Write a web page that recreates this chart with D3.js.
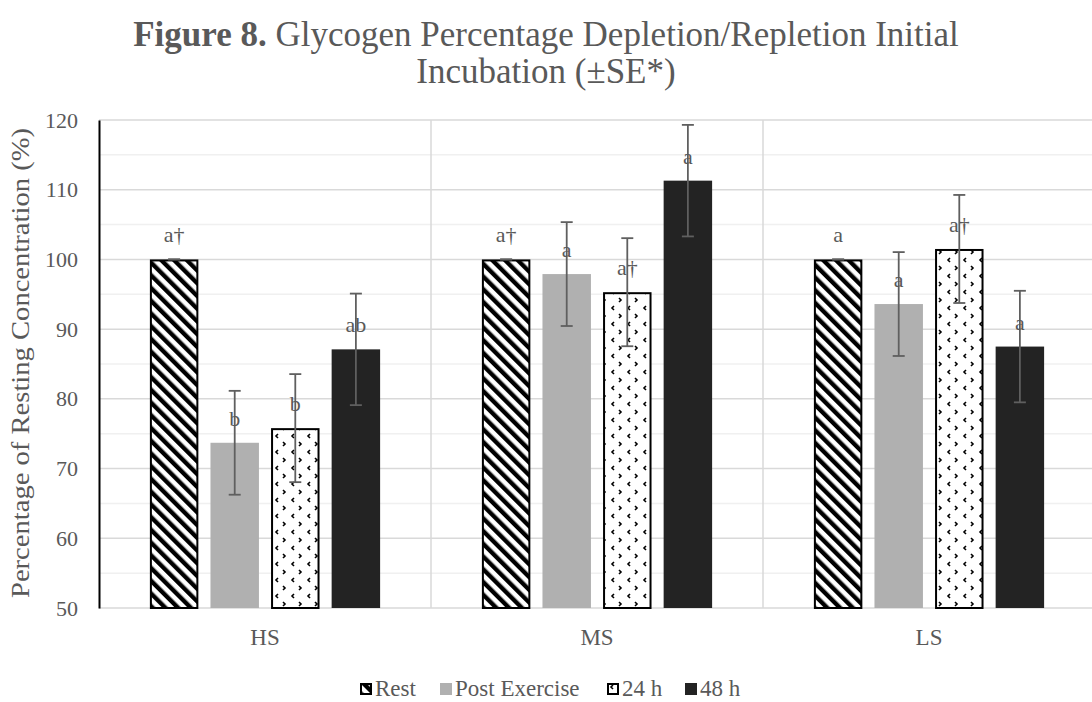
<!DOCTYPE html>
<html>
<head>
<meta charset="utf-8">
<script src="https://cdn.jsdelivr.net/npm/d3@7"></script>
<style>
  html, body { margin: 0; padding: 0; background: #fff; }
  svg { display: block; font-family: "Liberation Serif", "Times New Roman", serif; }
  svg text { font-family: "Liberation Serif", "Times New Roman", serif; }
</style>
</head>
<body>
<svg id="chart" width="1092" height="702"></svg>
<script>
// Sample groups and time points
const categories = ["HS", "MS", "LS"];
const seriesNames = ["Rest", "Post Exercise", "24 h", "48 h"];

// Glycogen as % of resting concentration, one array per time point (HS, MS, LS)
const restValues = [100, 100, 100];
const postExerciseValues = [73.7, 97.9, 93.6];
const h24Values = [75.8, 95.3, 101.5];
const h48Values = [87.1, 111.3, 87.5];

// Standard error for each time point (HS, MS, LS)
const restSE = [0, 0, 0];
const postExerciseSE = [7.45, 7.45, 7.45];
const h24SE = [7.75, 7.75, 7.75];
const h48SE = [8.0, 8.0, 8.0];

// Significance letters above each bar (HS, MS, LS)
const restLetters = ["a†", "a†", "a"];
const postExerciseLetters = ["b", "a", "a"];
const h24Letters = ["b", "a†", "a†"];
const h48Letters = ["ab", "a", "a"];

const yTicks = [50, 60, 70, 80, 90, 100, 110, 120];
const yMinorTicks = [55, 65, 75, 85, 95, 105, 115];

const seriesValues = [restValues, postExerciseValues, h24Values, h48Values];
const seriesSE = [restSE, postExerciseSE, h24SE, h48SE];
const seriesLetters = [restLetters, postExerciseLetters, h24Letters, h48Letters];

const rows = [];
seriesNames.forEach((s, si) => {
  categories.forEach((c, ci) => {
    rows.push({ series: s, si, cat: c, value: seriesValues[si][ci], se: seriesSE[si][ci], letter: seriesLetters[si][ci] });
  });
});

const svg = d3.select("#chart");
const textColor = "#595959";
const serif = "Liberation Serif, Times New Roman, serif";
const plot = { left: 99, right: 1095, top: 120, bottom: 608 };

// Fill patterns
const defs = svg.append("defs");
const stripes = defs.append("pattern")
  .attr("id", "stripes")
  .attr("patternUnits", "userSpaceOnUse")
  .attr("width", 9).attr("height", 9)
  .attr("patternTransform", "rotate(-45)");
stripes.append("rect").attr("width", 9).attr("height", 9).attr("fill", "#fff");
stripes.append("rect").attr("width", 4.4).attr("height", 9).attr("fill", "#000");

const dots = defs.append("pattern")
  .attr("id", "dots")
  .attr("patternUnits", "userSpaceOnUse")
  .attr("width", 16).attr("height", 16);
dots.append("rect").attr("width", 16).attr("height", 16).attr("fill", "#fff");
dots.append("path").attr("d", "M6,2 L4,4 L6,6").attr("fill", "none").attr("stroke", "#000").attr("stroke-width", 1.6);
dots.append("path").attr("d", "M11,10 L13,12 L11,14").attr("fill", "none").attr("stroke", "#000").attr("stroke-width", 1.6);

const fills = { "Rest": "url(#stripes)", "Post Exercise": "#b0b0b0", "24 h": "url(#dots)", "48 h": "#232323" };
const strokes = { "Rest": "#000", "Post Exercise": "none", "24 h": "#000", "48 h": "none" };

// Scales
const x0 = d3.scaleBand().domain(categories).range([plot.left, plot.right]).padding(0);
const x1 = d3.scaleBand().domain(seriesNames).range([0, x0.bandwidth()]).paddingInner(0.2).paddingOuter(0.84);
const y = d3.scaleLinear().domain([50, 120]).range([plot.bottom, plot.top]);

// Gridlines
svg.append("g").selectAll("line.minor").data(yMinorTicks).join("line")
  .attr("x1", plot.left).attr("x2", plot.right)
  .attr("y1", d => y(d)).attr("y2", d => y(d))
  .attr("stroke", "#f0f0f0").attr("stroke-width", 1.5);
svg.append("g").selectAll("line.major").data(yTicks.slice(1)).join("line")
  .attr("x1", plot.left).attr("x2", plot.right)
  .attr("y1", d => y(d)).attr("y2", d => y(d))
  .attr("stroke", "#d9d9d9").attr("stroke-width", 1.5);

// Category separators
svg.append("g").selectAll("line").data(categories.slice(1).concat(["__end"])).join("line")
  .attr("x1", d => d === "__end" ? plot.right : x0(d))
  .attr("x2", d => d === "__end" ? plot.right : x0(d))
  .attr("y1", plot.top).attr("y2", plot.bottom)
  .attr("stroke", "#d9d9d9").attr("stroke-width", 1.5);

// Bottom axis line
svg.append("line")
  .attr("x1", plot.left).attr("x2", plot.right)
  .attr("y1", plot.bottom).attr("y2", plot.bottom)
  .attr("stroke", "#d9d9d9").attr("stroke-width", 1.5);

// Bars
const barX = d => x0(d.cat) + x1(d.series);
svg.append("g").selectAll("rect").data(rows).join("rect")
  .attr("x", d => barX(d) + (strokes[d.series] === "none" ? 0 : 1))
  .attr("y", d => y(d.value) + (strokes[d.series] === "none" ? 0 : 1))
  .attr("width", d => x1.bandwidth() - (strokes[d.series] === "none" ? 0 : 2))
  .attr("height", d => y(50) - y(d.value) - (strokes[d.series] === "none" ? 0 : 1))
  .attr("fill", d => fills[d.series])
  .attr("stroke", d => strokes[d.series])
  .attr("stroke-width", 2);

// Error bars
const errColor = "#5f5f5f";
const capHalf = 6;
const eb = svg.append("g").selectAll("g").data(rows).join("g");
eb.append("line")
  .attr("x1", d => barX(d) + x1.bandwidth() / 2).attr("x2", d => barX(d) + x1.bandwidth() / 2)
  .attr("y1", d => y(d.value + d.se)).attr("y2", d => y(d.value - d.se))
  .attr("stroke", errColor).attr("stroke-width", 1.8);
eb.selectAll("line.cap").data(d => [d.value + d.se, d.value - d.se].map(v => ({ v, cx: barX(d) + x1.bandwidth() / 2 }))).join("line")
  .attr("x1", d => d.cx - capHalf).attr("x2", d => d.cx + capHalf)
  .attr("y1", d => y(d.v)).attr("y2", d => y(d.v))
  .attr("stroke", errColor).attr("stroke-width", 1.8);

// Significance letters
svg.append("g").selectAll("text").data(rows).join("text")
  .attr("x", d => barX(d) + x1.bandwidth() / 2)
  .attr("y", d => y(d.value) - 17)
  .attr("text-anchor", "middle")
  .attr("font-family", serif)
  .attr("font-size", 22)
  .attr("fill", textColor)
  .text(d => d.letter);

// Y axis
const yAxis = svg.append("g")
  .attr("transform", `translate(${plot.left},0)`)
  .call(d3.axisLeft(y).tickValues(yTicks).tickSize(0).tickPadding(21));
yAxis.attr("font-family", serif);
yAxis.select(".domain").attr("stroke", "#000").attr("stroke-width", 2);
yAxis.selectAll("text").attr("font-family", serif).attr("font-size", 22).attr("fill", textColor);

// X axis labels
const xAxis = svg.append("g")
  .attr("transform", `translate(0,${plot.bottom})`)
  .call(d3.axisBottom(x0).tickSize(0).tickPadding(21));
xAxis.attr("font-family", serif);
xAxis.select(".domain").remove();
xAxis.selectAll("text").attr("font-family", serif).attr("font-size", 23).attr("fill", textColor);

// Y axis title
svg.append("text")
  .attr("transform", `translate(29,${(plot.top + plot.bottom) / 2 - 1}) rotate(-90)`)
  .attr("text-anchor", "middle")
  .attr("font-family", serif)
  .attr("font-size", 25)
  .attr("textLength", 470)
  .attr("lengthAdjust", "spacingAndGlyphs")
  .attr("fill", textColor)
  .text("Percentage of Resting Concentration (%)");

// Title
const title = svg.append("text")
  .attr("x", 546).attr("y", 46)
  .attr("text-anchor", "middle")
  .attr("font-family", serif)
  .attr("font-size", 35)
  .attr("fill", textColor);
title.append("tspan").attr("font-weight", "bold").text("Figure 8.");
title.append("tspan").text(" Glycogen Percentage Depletion/Repletion Initial");
svg.append("text")
  .attr("x", 546).attr("y", 83)
  .attr("text-anchor", "middle")
  .attr("font-family", serif)
  .attr("font-size", 35)
  .attr("fill", textColor)
  .text("Incubation (±SE*)");

// Legend
const legendX = { "Rest": 360, "Post Exercise": 440, "24 h": 607, "48 h": 685 };
const lg = svg.append("g").selectAll("g").data(seriesNames).join("g")
  .attr("transform", d => `translate(${legendX[d]},683)`);
lg.append("rect")
  .attr("x", d => strokes[d] === "none" ? 0 : 1).attr("y", d => strokes[d] === "none" ? 0 : 1)
  .attr("width", d => strokes[d] === "none" ? 12 : 10).attr("height", d => strokes[d] === "none" ? 12 : 10)
  .attr("fill", d => fills[d]).attr("stroke", d => strokes[d]).attr("stroke-width", 2);
lg.append("text")
  .attr("x", 15).attr("y", 13)
  .attr("font-family", serif)
  .attr("font-size", 23)
  .attr("fill", textColor)
  .text(d => d);
</script>
</body>
</html>
